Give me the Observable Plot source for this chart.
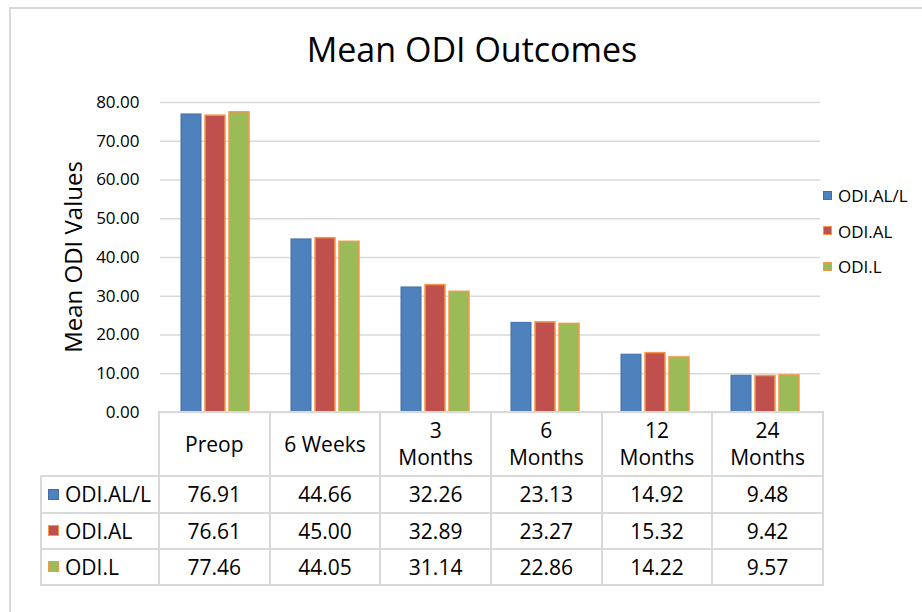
<!DOCTYPE html>
<html><head><meta charset="utf-8">
<script src="https://cdn.jsdelivr.net/npm/d3@7"></script>
<script src="https://cdn.jsdelivr.net/npm/@observablehq/plot@0.6"></script>
<style>
body{margin:0;background:#fff;font-family:"Open Sans",sans-serif;}
#wrap{position:relative;width:922px;height:612px;overflow:hidden;background:#fff;}
#frame{position:absolute;left:9px;top:7px;right:-10px;bottom:-10px;border-left:2px solid #d9d9d9;border-top:2px solid #d9d9d9;}
#chart{position:absolute;left:0;top:0;}
#title{position:absolute;left:0;width:944px;top:29px;font-size:34px;line-height:40px;text-align:center;color:#000;}
#ytitle{position:absolute;left:73px;top:257px;transform:translate(-50%,-50%) rotate(-90deg);font-size:24px;line-height:28px;white-space:nowrap;color:#000;}
#table{position:absolute;left:40px;top:411px;border-collapse:collapse;table-layout:fixed;color:#000;font-size:21px;}
#table td{border:2px solid #d9d9d9;text-align:center;padding:0;line-height:27px;}
#table td.blank{border-top:none;border-left:none;}
#table td.name{text-align:left;padding-left:6px;white-space:nowrap;}
.key{display:inline-block;width:9px;height:9px;margin-right:6px;vertical-align:middle;position:relative;top:-2px;}
#legend{position:absolute;left:823px;top:178px;font-size:17px;color:#000;}
#legend .item{height:35.5px;line-height:35.5px;white-space:nowrap;}
</style>
</head><body>
<div id="wrap">
  <div id="frame"></div>
  <div id="chart"></div>
  <div id="title">Mean ODI Outcomes</div>
  <div id="ytitle">Mean ODI Values</div>
  <table id="table"></table>
  <div id="legend"></div>
</div>
<script>
// ---- data ----
const categories = ["Preop", "6 Weeks", "3 Months", "6 Months", "12 Months", "24 Months"];
const categoryLines = [["Preop"], ["6 Weeks"], ["3", "Months"], ["6", "Months"], ["12", "Months"], ["24", "Months"]];
const seriesNames = ["ODI.AL/L", "ODI.AL", "ODI.L"];
const odiALL = [76.91, 44.66, 32.26, 23.13, 14.92, 9.48];
const odiAL  = [76.61, 45.00, 32.89, 23.27, 15.32, 9.42];
const odiL   = [77.46, 44.05, 31.14, 22.86, 14.22, 9.57];
const yTicks = [0, 10, 20, 30, 40, 50, 60, 70, 80];
const seriesFill = ["#4f81bd", "#c0504d", "#9bbb59"];
const seriesStroke = ["#3f6faa", "#f79646", "#f79646"];

const seriesValues = [odiALL, odiAL, odiL];
const data = seriesNames.flatMap((s, i) => categories.map((c, j) => ({category: c, series: s, value: seriesValues[i][j]})));

const W = 922, H = 612, mL = 158, mR = 100, mT = 102, mB = 200;

const plot = Plot.plot({
  width: W, height: H,
  marginLeft: mL, marginRight: mR, marginTop: mT, marginBottom: mB,
  style: {fontFamily: "Open Sans", fontSize: "17px", color: "#000", background: "transparent"},
  fx: {domain: categories, padding: 0, axis: null, label: null},
  x: {domain: seriesNames, paddingInner: 0.17, paddingOuter: 0.85, axis: null},
  y: {domain: [0, 80], ticks: yTicks, tickFormat: d => d.toFixed(2), tickSize: 0, tickPadding: 21, label: null},
  color: {domain: seriesNames, range: seriesFill},
  marks: [
    Plot.ruleY(yTicks, {stroke: "#d9d9d9", strokeWidth: 1.5}),
    Plot.barY(data.filter(d => d.series === seriesNames[0]), {fx: "category", x: "series", y: "value", fill: "series", stroke: seriesStroke[0], strokeWidth: 1}),
    Plot.barY(data.filter(d => d.series !== seriesNames[0]), {fx: "category", x: "series", y: "value", fill: "series", stroke: seriesStroke[1], strokeWidth: 1.5})
  ]
});
document.getElementById("chart").appendChild(plot);

// ---- data table ----
const colW = (W - mL - mR) / categories.length;
const table = document.getElementById("table");
const cg = document.createElement("colgroup");
[118, ...categories.map(() => colW)].forEach(w => { const c = document.createElement("col"); c.style.width = w + "px"; cg.appendChild(c); });
table.appendChild(cg);
const hr = document.createElement("tr"); hr.style.height = "64px";
const blank = document.createElement("td"); blank.className = "blank"; hr.appendChild(blank);
categoryLines.forEach(lines => { const td = document.createElement("td"); td.innerHTML = lines.join("<br>"); hr.appendChild(td); });
table.appendChild(hr);
const rowH = [37, 36, 36];
seriesNames.forEach((s, i) => {
  const tr = document.createElement("tr"); tr.style.height = rowH[i] + "px";
  const nm = document.createElement("td"); nm.className = "name";
  const k = document.createElement("span"); k.className = "key";
  k.style.background = seriesFill[i];
  k.style.boxSizing = "border-box";
  k.style.border = (i === 0 ? "1px solid " : "1.5px solid ") + seriesStroke[i];
  k.style.width = "11px"; k.style.height = "11px";
  nm.appendChild(k); nm.appendChild(document.createTextNode(s));
  tr.appendChild(nm);
  seriesValues[i].forEach(v => { const td = document.createElement("td"); td.textContent = v.toFixed(2); tr.appendChild(td); });
  table.appendChild(tr);
});

// ---- legend ----
const legend = document.getElementById("legend");
seriesNames.forEach((s, i) => {
  const it = document.createElement("div"); it.className = "item";
  const k = document.createElement("span"); k.className = "key";
  k.style.background = seriesFill[i];
  k.style.boxSizing = "border-box";
  k.style.border = (i === 0 ? "1px solid " : "1.5px solid ") + seriesStroke[i];
  it.appendChild(k); it.appendChild(document.createTextNode(s));
  legend.appendChild(it);
});
</script>
</body></html>
